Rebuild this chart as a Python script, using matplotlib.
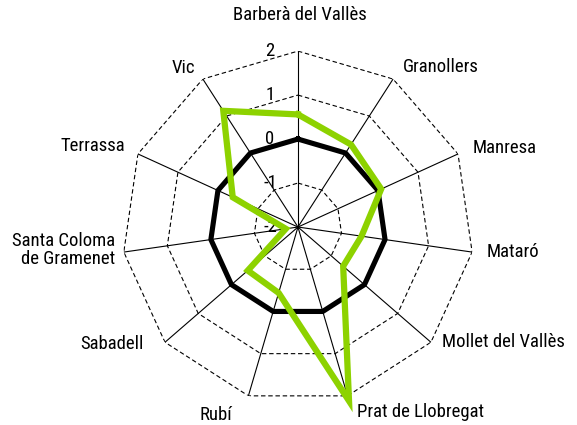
import numpy as np
import matplotlib
matplotlib.use("Agg")
import matplotlib.pyplot as plt
from matplotlib import font_manager

# narrow font, first one that is installed
installed = set(f.name for f in font_manager.fontManager.ttflist)
wanted = ['Roboto Condensed', 'Archivo Narrow', 'PT Sans Narrow', 'Fira Sans Condensed',
          'IBM Plex Sans Condensed', 'Encode Sans Condensed', 'Asap Condensed',
          'Open Sans Condensed', 'Liberation Sans Narrow']
fam = [w for w in wanted if w in installed][:1] + ['DejaVu Sans']
plt.rcParams['font.family'] = fam

# Data
cities = ["Barberà del Vallès", "Granollers", "Manresa", "Mataró", "Mollet del Vallès",
          "Prat de Llobregat", "Rubí", "Sabadell", "Santa Coloma\nde Gramenet",
          "Terrassa", "Vic"]
values = [0.56, 0.23, 0.08, -0.54, -0.64, 2.12, -0.44, -0.49, -1.72, -0.37, 1.14]
baseline = [0, 0, 0, 0, 0, 0, 0, 0, 0, 0, 0]
rings = [-1, 0, 1, 2]
ring_labels = ["2", "1", "0", "-1", "-2"]
ring_label_vals = [2, 1, 0, -1, -2]

n = len(cities)
angles = np.linspace(0, 2 * np.pi, n, endpoint=False)
closed = np.append(angles, angles[0])

fig = plt.figure(figsize=(5.77, 4.25), dpi=100)
ax = fig.add_axes([0.2114, 0.0518, 0.61, 0.828], projection='polar')
ax.set_theta_zero_location('N')
ax.set_theta_direction(-1)
ax.set_ylim(-2, 2)
ax.grid(False)
ax.spines['polar'].set_visible(False)
ax.set_xticks([])
ax.set_yticks([])

# polygon rings (dashed)
for r in rings:
    ax.plot(closed, [r] * (n + 1), color='black', lw=0.8, ls=(0, (4, 2.5)), zorder=1)
# spokes
for a in angles:
    ax.plot([a, a], [-2, 2], color='black', lw=0.8, zorder=1)

# series
ax.plot(closed, baseline + baseline[:1], color='black', lw=3.7, zorder=3)
ax.plot(closed, values + values[:1], color='#8DD200', lw=4.5, zorder=4,
        solid_joinstyle='miter', clip_on=False)

# radial tick labels, left of the top spoke
for v, lab in zip(ring_label_vals, ring_labels):
    ax.annotate(lab, xy=(0, v), xytext=(-28, 0), textcoords='offset pixels',
                ha='center', va='center', fontsize=13.5)

# category labels: offset (px) from outer vertex, alignment
offs = [(2, 36, 'center'), (10, 12, 'left'), (15, 6, 'left'), (15, 0, 'left'),
        (11, 0, 'left'), (9, -16, 'left'), (-16, -19, 'right'), (-21, -2, 'right'),
        (-9, 2, 'right'), (-13, 8, 'right'), (-8, 11, 'right')]
for a, name, (dx, dy, ha) in zip(angles, cities, offs):
    ax.annotate(name, xy=(a, 2), xytext=(dx, dy), textcoords='offset pixels',
                ha=ha, va='center', fontsize=13.5, linespacing=1.05, annotation_clip=False)

fig.savefig("out.png", dpi=100)
